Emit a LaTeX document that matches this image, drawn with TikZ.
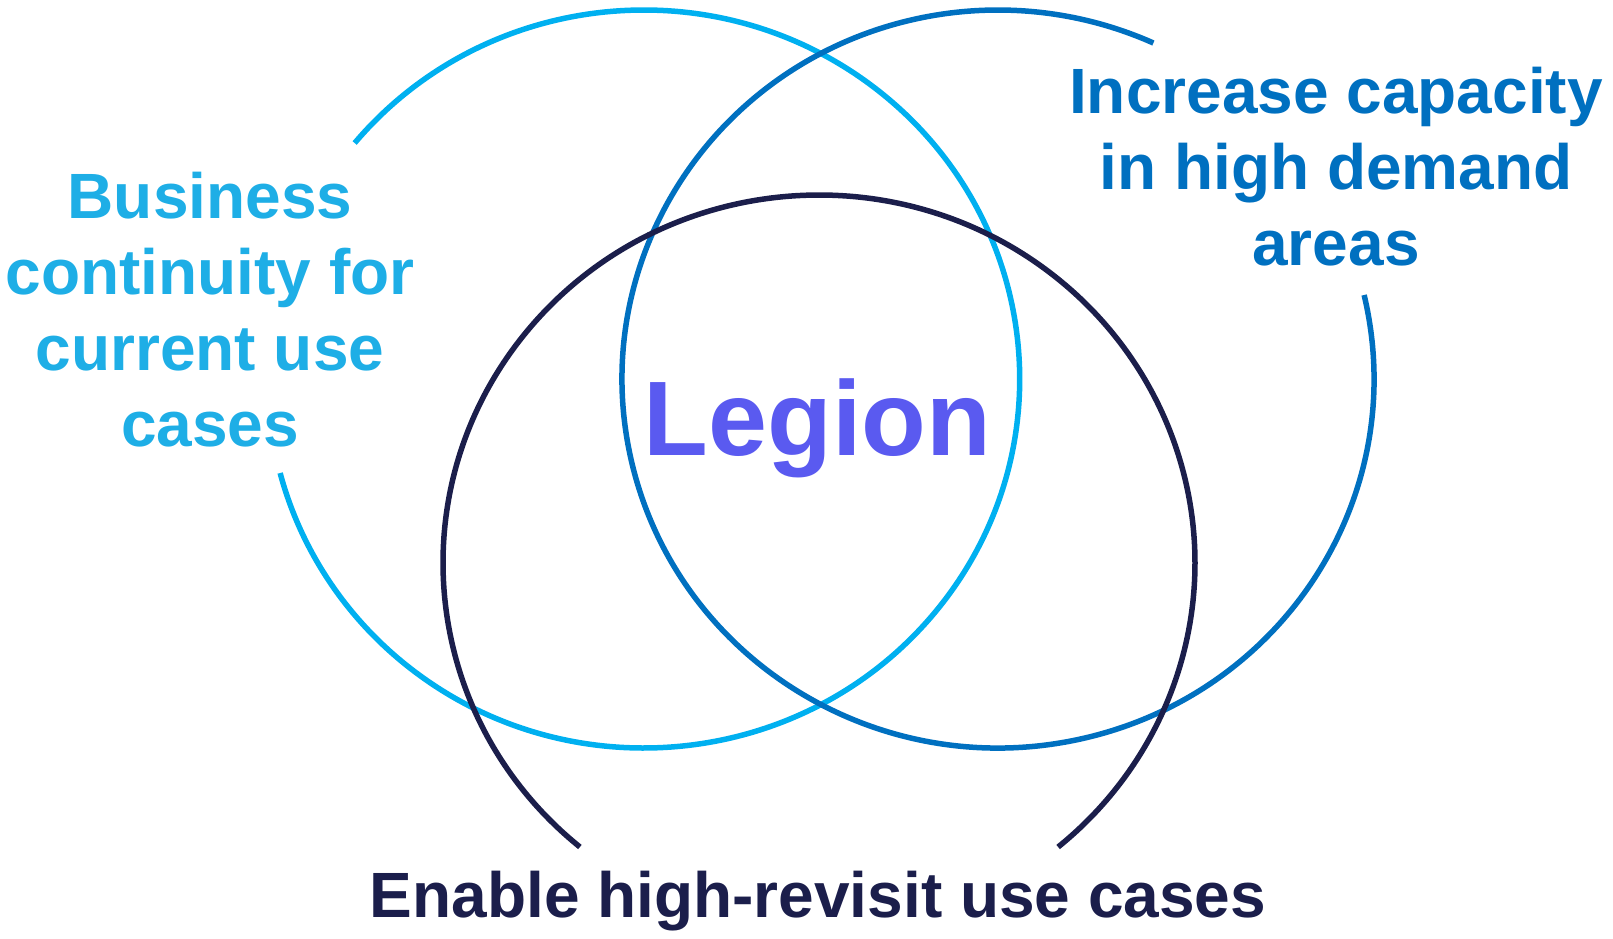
\documentclass[tikz,border=0pt]{standalone}
\usepackage{fontspec}
\setmainfont{Liberation Sans}
\usetikzlibrary{calc}

\definecolor{skyblue}{RGB}{0,176,240}
\definecolor{skytext}{RGB}{30,174,230}
\definecolor{midblue}{RGB}{0,112,192}
\definecolor{navy}{RGB}{27,30,75}
\definecolor{violet}{RGB}{90,90,240}

\tikzset{
  ring/.style={line width=5.5pt},
  label/.style={font=\bfseries\fontsize{64}{76}\selectfont, align=center,
    inner sep=0pt, anchor=base},
  title/.style={font=\bfseries\fontsize{106}{120}\selectfont,
    inner sep=0pt, anchor=base}
}

\begin{document}
\begin{tikzpicture}[x=1pt,y=-1pt]
  \useasboundingbox (0,0) rectangle (1613,938);

  % ring centres
  \coordinate (c1) at (643.7,379);
  \coordinate (c2) at (998,379);
  \coordinate (c3) at (819,563);

  % three rings, each opened where its label sits
  \draw[ring, skyblue] ($(c1)+(219.76:376 and 369)$)
    arc[start angle=219.76, end angle=525.24, x radius=376, y radius=369];
  \draw[ring, midblue] ($(c2)+(346.84:376 and 369)$)
    arc[start angle=346.84, end angle=654.41, x radius=376, y radius=369];
  \draw[ring, navy]    ($(c3)+(129.49:376 and 368)$)
    arc[start angle=129.49, end angle=410.51, x radius=376, y radius=368];

  % labels (base anchor sits on the last line)
  \node[label, text=skytext] (left) at (210,446)
    {Business\\continuity for\\current use\\cases};
  \node[label, text=midblue] (right) at (1336,265)
    {Increase capacity\\in high demand\\areas};
  \node[label, text=navy] (bottom) at (818,917)
    {Enable high-revisit use cases};
  \node[title, text=violet] (legion) at (817.5,455) {Legion};
\end{tikzpicture}
\end{document}
